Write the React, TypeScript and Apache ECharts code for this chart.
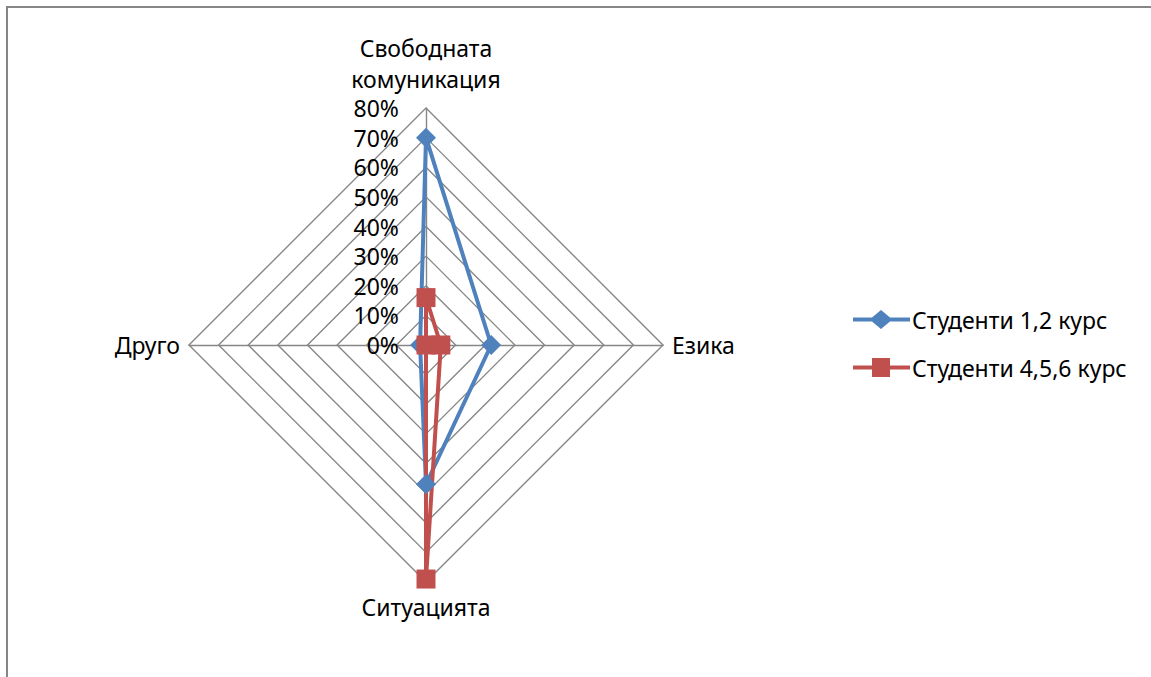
import React, { useEffect, useRef } from "react";
import * as echarts from "echarts";

const indicatorNames = ["Свободната\nкомуникация", "Друго", "Ситуацията", "Езика"];
const seriesNames = ["Студенти 1,2 курс", "Студенти 4,5,6 курс"];
const students12 = [0.7, 0.02, 0.47, 0.22];
const students456 = [0.16, 0.0, 0.79, 0.05];
const axisMax = 0.8;
const axisStep = 0.1;

const FONT = "Noto Sans";
const FS = 23;

const BLUE = "#4F81BD";
const RED = "#C0504D";

const diamondIcon =
  "path://M0 7.5 H19 L28 0 L37 7.5 H57 V11.5 H37 L28 19 L19 11.5 H0 Z";
const squareIcon =
  "path://M0 7.5 H19 V0 H37 V7.5 H57 V11.5 H37 V19 H19 V11.5 H0 Z";

export default function App() {
  const ref = useRef<HTMLDivElement>(null);
  useEffect(() => {
    document.body.style.margin = "0";
    const chart = echarts.init(ref.current!, null, { renderer: "svg" });
    chart.setOption({
      animation: false,
      backgroundColor: "#ffffff",
      textStyle: { fontFamily: FONT },
      graphic: [
        {
          type: "rect",
          shape: { x: 7, y: 7, width: 1300, height: 800 },
          style: { fill: "none", stroke: "#868686", lineWidth: 2 },
          silent: true,
        },
      ],
      legend: {
        orient: "vertical",
        left: 848,
        top: 303,
        itemWidth: 57,
        itemHeight: 19,
        itemGap: 25,
        textStyle: { fontSize: FS, color: "#000", fontFamily: FONT, padding: [0, 0, 0, -3] },
        data: [
          { name: seriesNames[0], icon: diamondIcon, itemStyle: { color: BLUE } },
          { name: seriesNames[1], icon: squareIcon, itemStyle: { color: RED } },
        ],
      },
      grid: { left: 426, top: 108, height: 237, width: 1 },
      xAxis: { type: "value", show: false },
      yAxis: {
        type: "value",
        min: 0,
        max: axisMax,
        interval: axisStep,
        axisLine: { show: false },
        axisTick: { show: false },
        splitLine: { show: false },
        axisLabel: {
          margin: 27,
          fontSize: FS,
          color: "#000",
          fontFamily: FONT,
          formatter: (v: number) => Math.round(v * 100) + "%",
        },
      },
      radar: {
        center: [426, 345],
        radius: 237,
        startAngle: 90,
        splitNumber: 8,
        shape: "polygon",
        axisNameGap: 9,
        axisName: {
          color: "#000",
          fontSize: FS,
          fontFamily: FONT,
          lineHeight: 31,
          padding: [0, 0, 5, 0],
        },
        splitLine: { lineStyle: { color: "#868686", width: 1.4 } },
        splitArea: { show: false },
        axisLine: { lineStyle: { color: "#868686", width: 1.4 } },
        axisTick: { show: false },
        axisLabel: { show: false },
        indicator: indicatorNames.map((n) => ({ name: n, min: 0, max: axisMax })),
      },
      series: [
        {
          type: "radar",
          data: [
            {
              name: seriesNames[0],
              value: students12,
              symbol: "diamond",
              symbolSize: 20,
              lineStyle: { color: BLUE, width: 4 },
              itemStyle: { color: BLUE },
            },
            {
              name: seriesNames[1],
              value: students456,
              symbol: "rect",
              symbolSize: 19,
              lineStyle: { color: RED, width: 4 },
              itemStyle: { color: RED },
            },
          ],
        },
      ],
    });
    return () => chart.dispose();
  }, []);
  return <div ref={ref} style={{ width: 1151, height: 677 }} />;
}
